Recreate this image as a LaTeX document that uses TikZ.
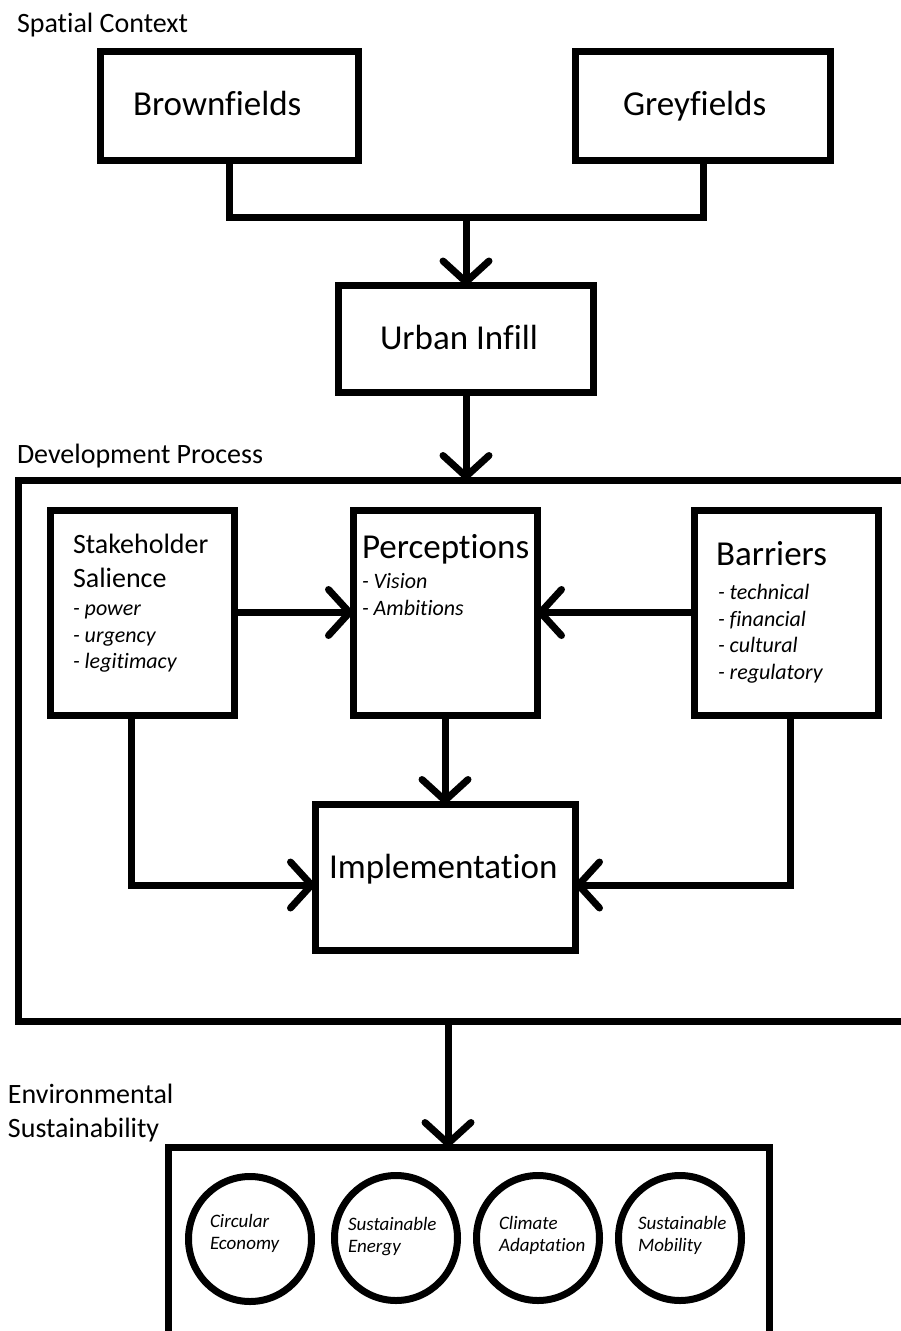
\documentclass[tikz,border=0pt]{standalone}
\usepackage{fontspec}
\setmainfont{Carlito}[Ligatures={NoCommon}]
\usetikzlibrary{arrows.meta,shapes.geometric}
\begin{document}
\begin{tikzpicture}[x=1pt,y=-1pt,
  box/.style={draw,line width=7pt,rectangle,inner sep=0pt,outer sep=0pt},
  ring/.style={draw,line width=7pt,ellipse,inner sep=0pt,outer sep=0pt,minimum width=123pt,minimum height=125pt},
  conn/.style={line width=7pt},
  arr/.style={line width=7pt,-{Straight Barb[length=21pt,width=46pt,round]}},
  txt/.style={anchor=base west,inner sep=0pt,outer sep=0pt},
  big/.style={txt,font=\fontsize{35}{42}\selectfont},
  mid/.style={txt,font=\fontsize{28}{34}\selectfont},
  item/.style={txt,font=\itshape\fontsize{22}{27}\selectfont},
  small/.style={txt,font=\itshape\fontsize{19}{23}\selectfont}
]
\useasboundingbox (0,0) rectangle (901,1331);
\fill[white] (0,0) rectangle (901,1331);

% Spatial context
\node[mid] (lsc) at (17,32) {Spatial Context};
\node[box,minimum width=258pt,minimum height=109pt] (b) at (229.5,106) {};
\node[box,minimum width=255pt,minimum height=109pt] (g) at (703,106) {};
\node[big] (tb) at (133,115) {Brownfields};
\node[big] (tg) at (623,115) {Greyfields};
\node[box,minimum width=255pt,minimum height=107pt] (u) at (466,339) {};
\node[big] (tu) at (380,349) {Urban Infill};

\coordinate (j) at (466,217);
\draw[conn] (b.south) |- (j) -| (g.south);
\draw[arr] (j) -- (u.north);

% Development process
\node[mid] (ldp) at (17,463) {Development Process};
\node[box,minimum width=903pt,minimum height=541pt] (dev) at (469.5,750.5) {};
\draw[arr] (u.south) -- (u.south |- dev.north);

\node[box,minimum width=184pt,minimum height=205pt] (s) at (142,612.5) {};
\node[box,minimum width=184pt,minimum height=205pt] (p) at (445,612.5) {};
\node[box,minimum width=184pt,minimum height=205pt] (r) at (786,612.5) {};
\node[box,minimum width=260pt,minimum height=146pt] (i) at (445,877) {};

\node[mid] (ts1) at (73,553) {Stakeholder};
\node[mid] (ts2) at (73,587) {Salience};
\node[item] (ts3) at (73,615) {- power};
\node[item] (ts4) at (73,642) {- urgency};
\node[item] (ts5) at (73,668) {- legitimacy};

\node[big] (tp1) at (362,558) {Perceptions};
\node[item] (tp2) at (362,588) {- Vision};
\node[item] (tp3) at (362,615) {- Ambitions};

\node[big] (tr1) at (716,565) {Barriers};
\node[item] (tr2) at (718,599) {- technical};
\node[item] (tr3) at (718,626) {- financial};
\node[item] (tr4) at (718,652) {- cultural};
\node[item] (tr5) at (718,679) {- regulatory};

\node[big] (ti) at (329,878) {Implementation};

\draw[arr] (s.east) -- (p.west);
\draw[arr] (r.west) -- (p.east);
\draw[arr] (p.south) -- (i.north);
\draw[arr] ([xshift=-11pt]s.south) |- ([yshift=-8pt]i.west);
\draw[arr] ([xshift=4pt]r.south) |- ([yshift=-8pt]i.east);

% Environmental sustainability
\node[mid] (le1) at (8,1103) {Environmental};
\node[mid] (le2) at (8,1137) {Sustainability};
\node[box,minimum width=601pt,minimum height=206pt] (env) at (468.5,1250) {};
\draw[arr] ([xshift=3pt]p.south |- dev.south) -- ([xshift=3pt]p.south |- env.north);

\node[ring] (c1) at (250,1239) {};
\node[ring] (c2) at (396,1238) {};
\node[ring] (c3) at (538,1238) {};
\node[ring] (c4) at (680,1238) {};
\node[small] (c1a) at (210,1227) {Circular};
\node[small] (c1b) at (210,1249) {Economy};
\node[small] (c2a) at (348,1230) {Sustainable};
\node[small] (c2b) at (348,1252) {Energy};
\node[small] (c3a) at (499,1229) {Climate};
\node[small] (c3b) at (499,1251) {Adaptation};
\node[small] (c4a) at (638,1229) {Sustainable};
\node[small] (c4b) at (638,1251) {Mobility};
\end{tikzpicture}
\end{document}
